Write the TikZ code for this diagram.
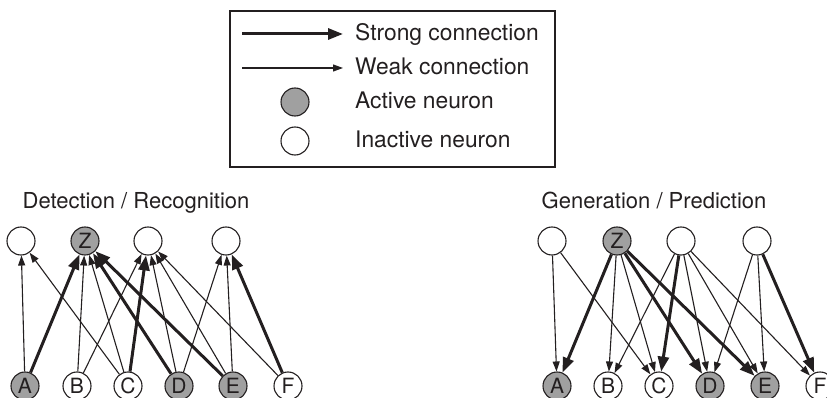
\documentclass[tikz,border=0pt]{standalone}
\usepackage{fontspec}
\setmainfont{TeX Gyre Heros}
\usetikzlibrary{arrows.meta}
\definecolor{inkgray}{RGB}{35,31,32}
\definecolor{actgray}{RGB}{160,160,160}

\begin{document}
\begin{tikzpicture}
	[x=1pt, y=-1pt,
	nact/.style={circle, draw=inkgray, line width=1.1pt, fill=actgray, minimum size=28pt, inner sep=0, text=inkgray, font=\fontsize{21}{21}\selectfont},
	ninact/.style={nact, fill=white},
	strong/.style={-{Triangle[length=15pt, width=11pt]}, line width=3pt, draw=inkgray},
	weak/.style={-{Triangle[length=10pt, width=7pt]}, line width=1.1pt, draw=inkgray},
	lbl/.style={anchor=base west, inner sep=0, text=inkgray, font=\fontsize{22.8}{22.8}\selectfont},
	ttl/.style={anchor=base, inner sep=0, text=inkgray, font=\fontsize{22}{22}\selectfont}]
	\useasboundingbox (0,0) rectangle (827,398);
	% legend
	\draw [inkgray, line width=1.3pt] (230,11) rectangle (555,167);
	\coordinate (s0) at (242,34);
	\coordinate (s1) at (343,34);
	\coordinate (w0) at (242,68);
	\coordinate (w1) at (343,68);
	\draw [strong] (s0) -- (s1);
	\draw [weak] (w0) -- (w1);
	\node (lact) [nact] at (295,102) {};
	\node (linact) [ninact] at (295,141) {};
	\node (lstrong) [lbl] at (355,41) {Strong connection};
	\node (lweak) [lbl] at (355,75) {Weak connection};
	\node (lactive) [lbl] at (355,109) {Active neuron};
	\node (linactive) [lbl] at (355,148) {Inactive neuron};
	% detection / recognition
	\node (dtitle) [ttl] at (136,208) {Detection / Recognition};
	\node (d1) [ninact] at (21,241) {};
	\node (dZ) [nact] at (85,241) {Z};
	\node (d3) [ninact] at (148,241) {};
	\node (d4) [ninact] at (226,241) {};
	\node (dA) [nact] at (25,386) {A}
		edge [weak] (d1)
		edge [strong] (dZ);
	\node (dB) [ninact] at (77,386) {B}
		edge [weak] (dZ)
		edge [weak] (d3);
	\node (dC) [ninact] at (128,386) {C}
		edge [weak] (d1)
		edge [weak] (dZ)
		edge [strong] (d3);
	\node (dD) [nact] at (179,386) {D}
		edge [strong] (dZ)
		edge [weak] (d3)
		edge [weak] (d4);
	\node (dE) [nact] at (233,386) {E}
		edge [strong] (dZ)
		edge [weak] (d3)
		edge [weak] (d4);
	\node (dF) [ninact] at (288,386) {F}
		edge [weak] (d3)
		edge [strong] (d4);
	% generation / prediction
	\node (gtitle) [ttl] at (654,208) {Generation / Prediction};
	\node (gA) [nact] at (557,386) {A};
	\node (gB) [ninact] at (608,386) {B};
	\node (gC) [ninact] at (659,386) {C};
	\node (gD) [nact] at (710,386) {D};
	\node (gE) [nact] at (765,386) {E};
	\node (gF) [ninact] at (820,386) {F};
	\node (g1) [ninact] at (552,241) {}
		edge [weak] (gA)
		edge [weak] (gC);
	\node (gZ) [nact] at (617,241) {Z}
		edge [strong] (gA)
		edge [weak] (gB)
		edge [weak] (gC)
		edge [strong] (gD)
		edge [strong] (gE);
	\node (g3) [ninact] at (681,241) {}
		edge [weak] (gB)
		edge [strong] (gC)
		edge [weak] (gD)
		edge [weak] (gE)
		edge [weak] (gF);
	\node (g4) [ninact] at (757,241) {}
		edge [weak] (gD)
		edge [weak] (gE)
		edge [strong] (gF);
\end{tikzpicture}
\end{document}
